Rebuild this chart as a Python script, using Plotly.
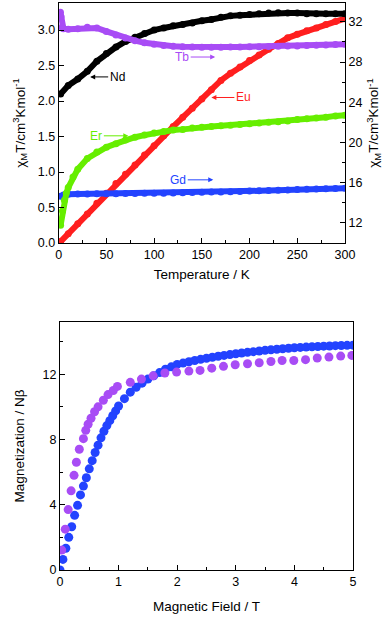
import plotly.graph_objects as go

# ---- top panel: chi_M T vs temperature ----
T_ND = [2, 10, 20, 30, 40, 50, 60, 70, 80, 90, 100, 110, 120, 130, 140, 150,
        160, 170, 180, 190, 200, 210, 220, 230, 240, 250, 260, 270, 280, 290, 300]
CHI_ND = [2.10, 2.22, 2.31, 2.42, 2.56, 2.67, 2.76, 2.84, 2.90, 2.95, 3.00, 3.03,
          3.06, 3.08, 3.10, 3.13, 3.15, 3.18, 3.20, 3.21, 3.22, 3.23, 3.24, 3.245,
          3.24, 3.24, 3.23, 3.23, 3.23, 3.23, 3.23]

T_EU = T_ND
CHI_EU = [0.02, 0.13, 0.27, 0.41, 0.56, 0.70, 0.84, 0.97, 1.10, 1.24, 1.37, 1.51,
          1.64, 1.77, 1.90, 2.03, 2.16, 2.29, 2.39, 2.48, 2.57, 2.65, 2.73, 2.81,
          2.89, 2.94, 2.99, 3.03, 3.08, 3.12, 3.16]

# right-axis series
T_ER = [2, 4, 6, 8, 10, 15, 20, 30, 40, 50, 60, 70, 80, 90, 100, 110, 120, 130,
        140, 150, 160, 170, 180, 190, 200, 210, 220, 230, 240, 250, 260, 270, 280, 290, 300]
CHI_ER = [11.77, 13.18, 14.24, 14.94, 15.51, 16.57, 17.34, 18.40, 19.04, 19.53,
          19.88, 20.24, 20.52, 20.73, 20.94, 21.08, 21.23, 21.30, 21.44, 21.51,
          21.58, 21.65, 21.72, 21.79, 21.86, 21.93, 22.00, 22.07, 22.14, 22.28,
          22.36, 22.43, 22.50, 22.64, 22.71]

T_TB = [1.8, 2.5, 3.5, 5, 10, 20, 30, 40, 50, 60, 70, 80, 90, 100, 110, 120, 130,
        140, 150, 160, 170, 180, 190, 200, 210, 220, 230, 240, 250, 260, 270, 280, 290, 300]
CHI_TB = [32.95, 32.50, 31.46, 31.32, 31.25, 31.32, 31.46, 31.39, 31.04, 30.69,
          30.40, 30.12, 29.91, 29.77, 29.63, 29.56, 29.52, 29.49, 29.48, 29.48,
          29.48, 29.49, 29.50, 29.51, 29.52, 29.54, 29.56, 29.58, 29.60, 29.63,
          29.66, 29.70, 29.73, 29.77]

T_GD = [2, 5, 10, 20, 30, 40, 50, 60, 70, 80, 90, 100, 110, 120, 130, 140, 150,
        160, 170, 180, 190, 200, 210, 220, 230, 240, 250, 260, 270, 280, 290, 300]
CHI_GD = [14.66, 14.78, 14.85, 14.87, 14.88, 14.89, 14.90, 14.91, 14.92, 14.93,
          14.94, 14.95, 14.96, 14.98, 15.00, 15.02, 15.04, 15.06, 15.08, 15.10,
          15.13, 15.16, 15.19, 15.22, 15.25, 15.28, 15.31, 15.34, 15.37, 15.40,
          15.43, 15.45]

# ---- bottom panel: magnetization vs field ----
H_BLUE = [0.00, 0.05, 0.10, 0.15, 0.20, 0.25, 0.30, 0.35, 0.40, 0.45, 0.50, 0.55,
          0.60, 0.65, 0.70, 0.75, 0.80, 0.85, 0.90, 0.95, 1.0, 1.1, 1.2, 1.3, 1.4,
          1.5, 1.6, 1.7, 1.8, 1.9, 2.0, 2.1, 2.2, 2.3, 2.4, 2.5, 2.6, 2.7, 2.8, 2.9,
          3.0, 3.1, 3.2, 3.3, 3.4, 3.5, 3.6, 3.7, 3.8, 3.9, 4.0, 4.1, 4.2, 4.3, 4.4,
          4.5, 4.6, 4.7, 4.8, 4.9, 5.0]
M_BLUE = [0.0, 0.65, 1.33, 2.0, 2.65, 3.35, 3.96, 4.6, 5.14, 5.65, 6.2, 6.7, 7.2,
          7.65, 8.1, 8.5, 8.85, 9.15, 9.45, 9.75, 10.05, 10.5, 10.9, 11.2, 11.45,
          11.7, 11.9, 12.1, 12.3, 12.45, 12.6, 12.68, 12.76, 12.84, 12.91, 12.98,
          13.04, 13.1, 13.15, 13.2, 13.25, 13.3, 13.34, 13.38, 13.42, 13.46, 13.5,
          13.53, 13.56, 13.59, 13.62, 13.64, 13.66, 13.68, 13.7, 13.72, 13.73,
          13.75, 13.76, 13.77, 13.78]

H_PURPLE = [0.03, 0.09, 0.14, 0.19, 0.24, 0.28, 0.33, 0.40, 0.44, 0.48, 0.53, 0.59,
            0.65, 0.74, 0.82, 0.91, 0.98, 1.20, 1.39, 1.59, 1.79, 1.99, 2.20, 2.39,
            2.59, 2.79, 2.99, 3.20, 3.40, 3.60, 3.79, 3.99, 4.19, 4.39, 4.59, 4.79, 4.98]
M_PURPLE = [1.22, 2.5, 3.7, 4.85, 5.8, 6.6, 7.4, 8.05, 8.56, 8.93, 9.3, 9.7, 10.0,
            10.4, 10.75, 11.0, 11.25, 11.5, 11.7, 11.9, 12.07, 12.13, 12.19, 12.23,
            12.37, 12.48, 12.58, 12.64, 12.7, 12.78, 12.84, 12.84, 12.89, 12.99,
            13.05, 13.11, 13.15]

BLACK = "#000000"
RED = "#ff1f1f"
GREEN = "#66ee00"
PURPLE = "#a84cf5"
BLUE = "#2343ff"
FONT = "Liberation Sans, Arial, sans-serif"

CHI_LABEL = "χ<sub>M</sub>T/cm<sup>3</sup>Kmol<sup>-1</sup>"


def band(x, y, color, yaxis="y", xaxis="x"):
    return go.Scatter(x=x, y=y, mode="lines+markers", xaxis=xaxis, yaxis=yaxis,
                      line=dict(color=color, width=6),
                      marker=dict(color=color, size=7),
                      showlegend=False, hoverinfo="skip")


def dots(x, y, color):
    return go.Scatter(x=x, y=y, mode="markers", xaxis="x3", yaxis="y3",
                      marker=dict(color=color, size=9, line=dict(width=0)),
                      showlegend=False)


fig = go.Figure()
fig.add_trace(band(T_GD, CHI_GD, BLUE, yaxis="y2"))
fig.add_trace(band(T_ER, CHI_ER, GREEN, yaxis="y2"))
fig.add_trace(band(T_EU, CHI_EU, RED))
fig.add_trace(band(T_ND, CHI_ND, BLACK))
fig.add_trace(band(T_TB, CHI_TB, PURPLE, yaxis="y2"))

fig.add_trace(dots(H_BLUE, M_BLUE, BLUE))
fig.add_trace(dots(H_PURPLE, M_PURPLE, PURPLE))

axis_common = dict(showline=True, linecolor="black", linewidth=1, ticks="inside",
                   ticklen=5, tickcolor="black", showgrid=False, zeroline=False,
                   automargin=False, tickfont=dict(size=12.5, color="black"))
title_font = dict(size=13.5, color="black")

fig.update_layout(
    width=392, height=618,
    margin=dict(l=0, r=0, t=0, b=0),
    plot_bgcolor="white", paper_bgcolor="white",
    font=dict(family=FONT, size=12, color="black"),
    showlegend=False,
    xaxis=dict(domain=[0.1497, 0.880], anchor="y", range=[0, 300], dtick=50,
               mirror=True, minor=dict(ticks="inside", ticklen=3, dtick=25),
               title=dict(text="Temperature / K", font=title_font, standoff=8),
               **axis_common),
    yaxis=dict(domain=[0.6068, 0.995], anchor="x", range=[0, 3.38], dtick=0.5,
               tickformat=".1f",
               title=dict(text=CHI_LABEL, font=title_font, standoff=9),
               **axis_common),
    yaxis2=dict(overlaying="y", anchor="x", side="right", range=[10, 33.86],
                tick0=12, dtick=4, minor=dict(ticks="inside", ticklen=3, dtick=2),
                title=dict(text=CHI_LABEL, font=title_font, standoff=7),
                **axis_common),
    xaxis3=dict(domain=[0.153, 0.9005], anchor="y3", range=[0, 5], dtick=1,
                mirror=True, minor=dict(ticks="inside", ticklen=3, dtick=0.5),
                title=dict(text="Magnetic Field / T", font=title_font, standoff=13),
                **axis_common),
    yaxis3=dict(domain=[0.0777, 0.479], anchor="x3", range=[0, 15.2], dtick=4,
                mirror=True, minor=dict(ticks="inside", ticklen=3, dtick=2),
                title=dict(text="Magnetization / Nβ", font=title_font, standoff=14),
                **axis_common),
)

# curve labels with arrows (tip on the curve, text offset in pixels)
labels = [
    ("Nd", 33, 2.34, 27, BLACK),
    ("Eu", 160, 2.05, 32, RED),
    ("Er", 73, 1.51, -32, GREEN),
    ("Tb", 164, 2.62, -33, PURPLE),
    ("Gd", 162, 0.89, -35, BLUE),
]
for text, x, y, ax, color in labels:
    fig.add_annotation(x=x, y=y, xref="x", yref="y", text=text, ax=ax, ay=0,
                       showarrow=True, arrowhead=2, arrowsize=1, arrowwidth=1,
                       arrowcolor=color, font=dict(size=12, color=color),
                       standoff=0)

# the page body has a default 8px margin; drop it so the figure sits at 0,0
fig.write_html("out.html", config={"displayModeBar": False},
               post_script="document.body.style.margin = '0';")
